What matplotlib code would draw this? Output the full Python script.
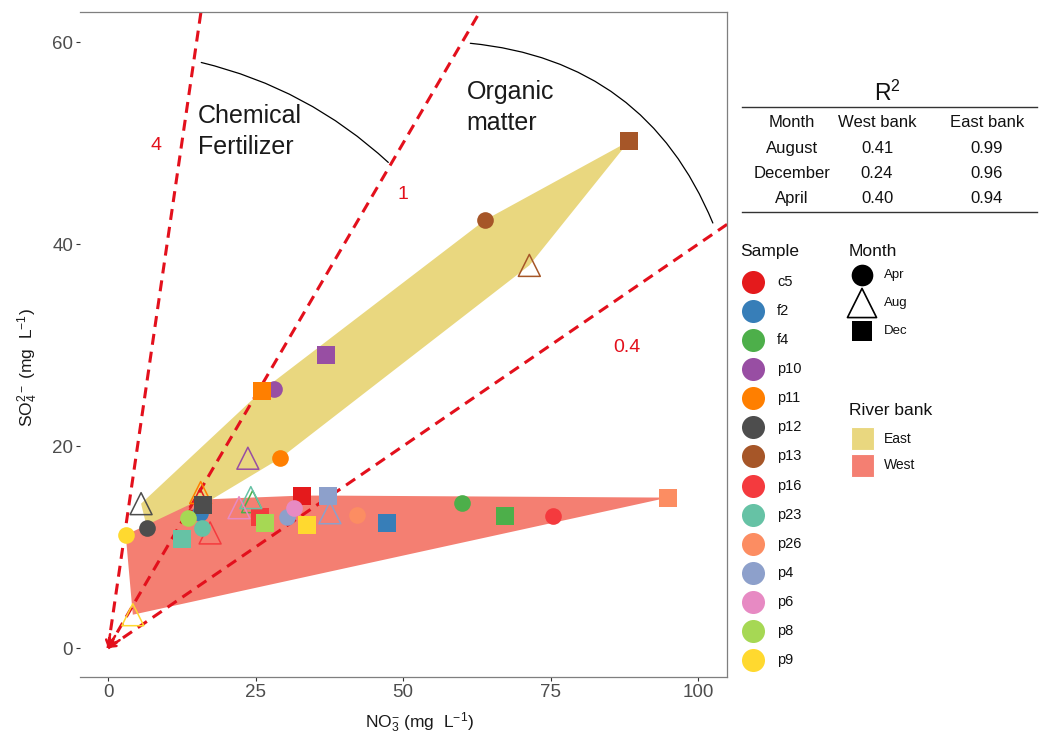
import numpy as np
import matplotlib
matplotlib.use('Agg')
import matplotlib.pyplot as plt
from matplotlib.patches import Polygon, FancyArrowPatch, Rectangle

plt.rcParams['font.family'] = ['Liberation Sans', 'DejaVu Sans']
plt.rcParams['mathtext.fontset'] = 'custom'
plt.rcParams['mathtext.rm'] = 'Liberation Sans'
plt.rcParams['mathtext.it'] = 'Liberation Sans:italic'
plt.rcParams['mathtext.bf'] = 'Liberation Sans:bold'

# ---------------- data ----------------
samples = ['c5', 'f2', 'f4', 'p10', 'p11', 'p12', 'p13', 'p16', 'p23', 'p26', 'p4', 'p6', 'p8', 'p9']
sample_colors = ['#E41A1C', '#377EB8', '#4DAF4A', '#984EA3', '#FF7F00', '#4D4D4D', '#A65628',
                 '#F43A3E', '#66C2A5', '#FC8D62', '#8DA0CB', '#E78AC3', '#A6D854', '#FFD92F']
east_samples = ['p10', 'p11', 'p12', 'p13']
banks = ['East', 'West']
bank_colors = ['#E9D77F', '#F47F72']

months = ['Apr', 'Aug', 'Dec']

pt_sample = ['c5', 'c5', 'f2', 'f2', 'f4', 'f4', 'f4',
             'p10', 'p10', 'p10', 'p11', 'p11', 'p11', 'p12', 'p12', 'p12',
             'p13', 'p13', 'p13', 'p16', 'p16', 'p16', 'p23', 'p23', 'p23',
             'p26', 'p26', 'p4', 'p4', 'p4', 'p6', 'p6', 'p8', 'p8', 'p9', 'p9', 'p9']
pt_month = ['Aug', 'Dec', 'Apr', 'Dec', 'Apr', 'Aug', 'Dec',
            'Apr', 'Aug', 'Dec', 'Apr', 'Aug', 'Dec', 'Apr', 'Aug', 'Dec',
            'Apr', 'Aug', 'Dec', 'Apr', 'Aug', 'Dec', 'Apr', 'Aug', 'Dec',
            'Apr', 'Dec', 'Apr', 'Aug', 'Dec', 'Apr', 'Aug', 'Apr', 'Dec', 'Apr', 'Aug', 'Dec']
pt_no3 = [15.6, 32.9, 15.6, 47.3, 60.0, 24.5, 67.3,
          28.1, 23.7, 36.9, 29.2, 15.7, 26.1, 6.6, 5.6, 16.1,
          63.9, 71.4, 88.3, 75.4, 17.3, 25.8, 15.9, 24.2, 12.5,
          42.2, 94.9, 30.3, 37.6, 37.3, 31.5, 22.2, 13.6, 26.6, 3.0, 4.2, 33.7]
pt_so4 = [14.7, 15.1, 13.4, 12.4, 14.4, 14.5, 13.1,
          25.7, 18.8, 29.0, 18.8, 15.4, 25.5, 11.9, 14.3, 14.2,
          42.4, 37.9, 50.2, 13.1, 11.4, 13.0, 11.9, 14.9, 10.8,
          13.2, 14.9, 13.0, 13.4, 15.1, 13.9, 13.9, 12.9, 12.4, 11.2, 3.3, 12.2]

ratio_slopes = [4, 1, 0.4]
ratio_labels = ['4', '1', '0.4']
ratio_label_pos = [(8.1, 49.8), (50.0, 44.9), (88.0, 29.8)]

table_months = ['August', 'December', 'April']
r2_west = [0.41, 0.24, 0.40]
r2_east = [0.99, 0.96, 0.94]

# ---------------- helpers ----------------
def convex_hull(pts):
    pts = sorted(set(map(tuple, pts)))
    if len(pts) < 3:
        return pts
    def cross(o, a, b):
        return (a[0] - o[0]) * (b[1] - o[1]) - (a[1] - o[1]) * (b[0] - o[0])
    lower, upper = [], []
    for p in pts:
        while len(lower) >= 2 and cross(lower[-2], lower[-1], p) <= 0:
            lower.pop()
        lower.append(p)
    for p in reversed(pts):
        while len(upper) >= 2 and cross(upper[-2], upper[-1], p) <= 0:
            upper.pop()
        upper.append(p)
    return lower[:-1] + upper[:-1]

color_of = dict(zip(samples, sample_colors))
pt_bank = ['East' if s in east_samples else 'West' for s in pt_sample]

W, H = 1043, 737
fig = plt.figure(figsize=(W / 100, H / 100), dpi=100)
fig.patch.set_facecolor('white')

L, R, T, B = 80, 727, 12, 677
ax = fig.add_axes([L / W, (H - B) / H, (R - L) / W, (B - T) / H])
xlim = (-4.75, 104.9)
ylim = (-2.87, 63.0)
ax.set_xlim(*xlim)
ax.set_ylim(*ylim)
ax.set_facecolor('white')

# hull polygons
for bank, col in zip(banks, bank_colors):
    pts = [(x, y) for x, y, b in zip(pt_no3, pt_so4, pt_bank) if b == bank]
    hull = convex_hull(pts)
    ax.add_patch(Polygon(hull, closed=True, facecolor=col, edgecolor='none', zorder=1))

# ratio lines
red = '#E3101C'
pxx = (R - L) / (xlim[1] - xlim[0])
pxy = (B - T) / (ylim[1] - ylim[0])
for s in ratio_slopes:
    xe = 200.0
    ax.plot([0, xe], [0, s * xe], color=red, lw=2.2, dashes=(3.6, 2.3), zorder=2,
            solid_capstyle='butt', dash_capstyle='butt')
    u = 14.0 / np.hypot(pxx, pxy * s)
    ax.annotate('', xy=(0, 0), xytext=(u, s * u),
                arrowprops=dict(arrowstyle='->,head_length=0.4,head_width=0.22',
                                color=red, lw=1.8, shrinkA=0, shrinkB=0), zorder=2)
for lab, (lx, ly) in zip(ratio_labels, ratio_label_pos):
    ax.text(lx, ly, lab, color=red, fontsize=14, ha='center', va='center', zorder=3)

# arcs and region labels
arc_specs = [((15.8, 58.0), (47.5, 48.1), -0.13), ((61.4, 59.9), (102.5, 42.1), -0.30)]
for a, b, rad in arc_specs:
    ax.add_patch(FancyArrowPatch(a, b, connectionstyle='arc3,rad=%s' % rad,
                                 arrowstyle='-', color='black', lw=0.9,
                                 shrinkA=0, shrinkB=0, zorder=3))
ax.text(15.2, 48.9, 'Chemical\nFertilizer', fontsize=18, color='#1a1a1a',
        ha='left', va='baseline', linespacing=1.37, zorder=3)
ax.text(60.8, 51.3, 'Organic\nmatter', fontsize=18, color='#1a1a1a',
        ha='left', va='baseline', linespacing=1.37, zorder=3)

# points
mk = {'Apr': ('o', 144), 'Aug': ('^', 250), 'Dec': ('s', 161)}
for s_, m_, x_, y_ in zip(pt_sample, pt_month, pt_no3, pt_so4):
    c = color_of[s_]
    marker, size = mk[m_]
    if m_ == 'Aug':
        ax.scatter([x_], [y_], marker=marker, s=size, facecolors='none',
                   edgecolors=c, linewidths=1.1, zorder=4)
    else:
        ax.scatter([x_], [y_], marker=marker, s=size, color=c,
                   linewidths=0, zorder=4)

# axes styling
for side in ['top', 'right', 'bottom']:
    ax.spines[side].set_color('#7F7F7F')
    ax.spines[side].set_linewidth(0.9)
ax.spines['left'].set_visible(False)
ax.set_xticks([0, 25, 50, 75, 100])
ax.set_yticks([0, 20, 40, 60])
ax.tick_params(length=3, width=0.8, color='#333333', labelcolor='#4D4D4D',
               labelsize=13.5, pad=2)
ax.set_xlabel(r'NO$_3^{-}$ (mg  L$^{-1}$)', fontsize=12.5, color='#1a1a1a')
ax.set_ylabel(r'SO$_4^{2-}$ (mg  L$^{-1}$)', fontsize=12.5, color='#1a1a1a')
ax.xaxis.set_label_coords((420 - L) / (R - L), -0.05)
ax.yaxis.set_label_coords(-0.062, (B - 368) / (B - T))

# ---------------- overlay (legends + table) in pixel coords ----------------
lax = fig.add_axes([0, 0, 1, 1])
lax.set_xlim(0, W)
lax.set_ylim(H, 0)
lax.axis('off')
lax.set_facecolor('none')

# table
lax.text(887, 93, r'R$^2$', fontsize=16.5, ha='center', va='center', color='#111111')
lax.plot([742, 1037], [107, 107], color='#333333', lw=1.0)
lax.plot([742, 1037], [212, 212], color='#333333', lw=1.0)
col_x = [792, 877, 987]
for cx, h in zip(col_x, ['Month', 'West bank', 'East bank']):
    lax.text(cx, 122, h, fontsize=12, ha='center', va='center', color='#111111')
for i, (mname, w, e) in enumerate(zip(table_months, r2_west, r2_east)):
    yy = 148 + 25 * i
    lax.text(col_x[0], yy, mname, fontsize=12, ha='center', va='center', color='#111111')
    lax.text(col_x[1], yy, '%.2f' % w, fontsize=12, ha='center', va='center', color='#111111')
    lax.text(col_x[2], yy, '%.2f' % e, fontsize=12, ha='center', va='center', color='#111111')

# sample legend
lax.text(740, 251, 'Sample', fontsize=12.5, ha='left', va='center', color='#111111')
for i, (s_, c) in enumerate(zip(samples, sample_colors)):
    yy = 282 + 29.08 * i
    lax.scatter([753], [yy], s=275, color=c, linewidths=0)
    lax.text(777, yy, s_, fontsize=10.5, ha='left', va='center', color='#111111')

# month legend
lax.text(849, 251, 'Month', fontsize=12.5, ha='left', va='center', color='#111111')
month_leg = {'Apr': ('o', 243, 275), 'Aug': ('^', 440, 303), 'Dec': ('s', 228, 331)}
for m_ in months:
    marker, size, yy = month_leg[m_]
    if m_ == 'Aug':
        lax.scatter([862], [yy], marker=marker, s=size, facecolors='none',
                    edgecolors='black', linewidths=1.2)
    else:
        lax.scatter([862], [yy], marker=marker, s=size, color='black', linewidths=0)
    lax.text(884, yy, m_, fontsize=9.5, ha='left', va='center', color='#111111')

# river bank legend
lax.text(849, 410, 'River bank', fontsize=12.5, ha='left', va='center', color='#111111')
for i, (bk, col) in enumerate(zip(banks, bank_colors)):
    y0 = 427 + 26.5 * i
    lax.add_patch(Rectangle((851, y0), 23, 23, facecolor=col, edgecolor='white', lw=0.8))
    lax.text(884, y0 + 11.5, bk, fontsize=10, ha='left', va='center', color='#111111')

fig.savefig('out.png', dpi=100, facecolor='white')
